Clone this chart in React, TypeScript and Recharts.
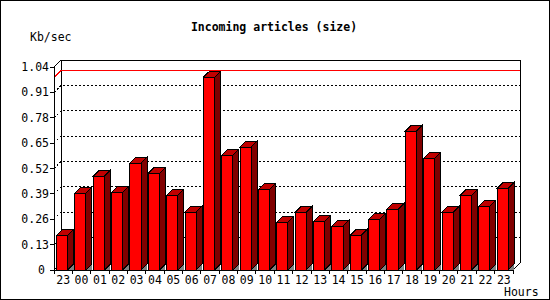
import { BarChart, Bar, XAxis, YAxis, CartesianGrid, ReferenceLine } from "recharts";

// hourly incoming article volume, Kb/sec
const hours = [
  "23", "00", "01", "02", "03", "04", "05", "06", "07", "08", "09", "10", "11",
  "12", "13", "14", "15", "16", "17", "18", "19", "20", "21", "22", "23",
];
const sizeKb = [
  0.178, 0.393, 0.48, 0.398, 0.547, 0.495, 0.383, 0.297, 0.987, 0.588, 0.63, 0.413, 0.244,
  0.296, 0.249, 0.224, 0.178, 0.26, 0.311, 0.712, 0.572, 0.296, 0.383, 0.326, 0.418,
];
const yTicks = [0, 0.13, 0.26, 0.39, 0.52, 0.65, 0.78, 0.91, 1.04];

const data = hours.map((hour, i) => ({ hour, size: sizeKb[i] }));
const peak = Math.max(...sizeKb);

const LEFT = 54;
const RIGHT = 513;
const TOP = 67;
const BOTTOM = 270;
const DEPTH = 7;
const BAND = (RIGHT - LEFT) / hours.length;
const FONT = "'DejaVu Sans Mono', monospace";
const FS = 11.5;

// grid lines sit on the back wall, the frame is drawn with the bottom line
const gridLine = (p: any) => {
  const x = p.x ?? LEFT;
  const y = p.y ?? TOP;
  const w = p.width ?? RIGHT - LEFT;
  const h = p.height ?? BOTTOM - TOP;
  const y1 = p.y1;
  const bx = x + DEPTH;
  const isTop = Math.abs(y1 - y) < 1;
  const isBottom = Math.abs(y1 - (y + h)) < 1;
  return (
    <g key={p.key}>
      {p.index === 0 && (
        <g stroke="#000" fill="none">
          <polyline points={`${x},${y} ${bx},${y - DEPTH} ${bx + w},${y - DEPTH} ${bx + w},${y + h - DEPTH} ${x + w},${y + h}`} />
          <line x1={bx} y1={y - DEPTH} x2={bx} y2={y + h - DEPTH} />
          <line x1={x} y1={y + h} x2={bx} y2={y + h - DEPTH} />
        </g>
      )}
      {!isTop && !isBottom && (
        <polyline
          points={`${x},${y1} ${bx},${y1 - DEPTH} ${bx + w},${y1 - DEPTH}`}
          fill="none"
          stroke="#000"
          strokeDasharray="2 2"
        />
      )}
    </g>
  );
};

const peakLine = (p: any) => (
  <polyline
    points={`${p.x1},${p.y1} ${p.x1 + DEPTH},${p.y1 - DEPTH} ${p.x2 + DEPTH},${p.y2 - DEPTH}`}
    fill="none"
    stroke="#ff0000"
  />
);

const Bar3D = (p: any) => {
  const { x, y, width, height } = p;
  if (height == null || isNaN(y)) return null;
  const d = 6;
  const fx = x + 2.5;
  const fw = width - 6.9;
  const fr = fx + fw;
  const bot = y + height;
  return (
    <g stroke="#000">
      <polygon points={`${fr},${bot} ${fr + d},${bot - d} ${fr + d},${bot}`} fill="#808080" stroke="none" />
      <polygon points={`${fr},${y} ${fr + d},${y - d} ${fr + d},${bot - d} ${fr},${bot}`} fill="#800000" />
      <polygon points={`${fx},${y} ${fx + d},${y - d} ${fr + d},${y - d} ${fr},${y}`} fill="#c00000" />
      <rect x={fx} y={y} width={fw} height={height} fill="#ff0000" />
    </g>
  );
};

const XTick = (p: any) => {
  const { x, index, payload } = p;
  const last = index === hours.length - 1;
  return (
    <g>
      <line x1={x - BAND / 2} y1={BOTTOM} x2={x - BAND / 2} y2={BOTTOM + 4} stroke="#000" />
      {last && <line x1={x + BAND / 2} y1={BOTTOM} x2={x + BAND / 2} y2={BOTTOM + 4} stroke="#000" />}
      <text x={x} y={BOTTOM + 10} textAnchor="middle" dominantBaseline="central" fontFamily={FONT} fontSize={FS} fill="#000">
        {payload.value}
      </text>
    </g>
  );
};

const YTick = (p: any) => {
  const { y, payload } = p;
  const v = payload.value;
  const label = v === 0 ? "0" : v.toFixed(2);
  return (
    <g>
      <line x1={LEFT - 4} y1={y} x2={LEFT} y2={y} stroke="#000" />
      <text x={v === 0 ? LEFT - 9 : LEFT - 5} y={y} textAnchor="end" dominantBaseline="central" fontFamily={FONT} fontSize={FS} fill="#000">
        {label}
      </text>
    </g>
  );
};

const App = () => {
  return (
    <div
      style={{
        position: "absolute",
        left: 0,
        top: 0,
        width: 550,
        height: 300,
        background: "#fff",
        shapeRendering: "crispEdges",
      }}
    >
      <BarChart
        width={550}
        height={300}
        data={data}
        margin={{ top: TOP, right: 550 - RIGHT, bottom: 10, left: 0 }}
        barCategoryGap={0}
        barGap={0}
      >
        <CartesianGrid vertical={false} horizontal={gridLine} />
        <ReferenceLine y={peak} shape={peakLine} />
        <XAxis
          dataKey="hour"
          interval={0}
          height={20}
          tickLine={false}
          axisLine={{ stroke: "#000" }}
          tick={(p: any) => <XTick {...p} />}
        />
        <YAxis
          width={LEFT}
          domain={[0, 1.04]}
          ticks={yTicks}
          interval={0}
          tickLine={false}
          axisLine={{ stroke: "#000" }}
          tick={(p: any) => <YTick {...p} />}
        />
        <Bar dataKey="size" isAnimationActive={false} shape={(p: any) => <Bar3D {...p} />} />
      </BarChart>
      <svg width={550} height={300} style={{ position: "absolute", left: 0, top: 0, pointerEvents: "none" }}>
        <rect x={0.5} y={0.5} width={549} height={299} fill="none" stroke="#000" />
        <text x={274} y={27} textAnchor="middle" dominantBaseline="central" fontFamily={FONT} fontSize={FS} fontWeight="bold">
          Incoming articles (size)
        </text>
        <text x={30} y={37} dominantBaseline="central" fontFamily={FONT} fontSize={FS}>
          Kb/sec
        </text>
        <text x={504} y={292} dominantBaseline="central" fontFamily={FONT} fontSize={FS}>
          Hours
        </text>
      </svg>
    </div>
  );
};

export default App;
